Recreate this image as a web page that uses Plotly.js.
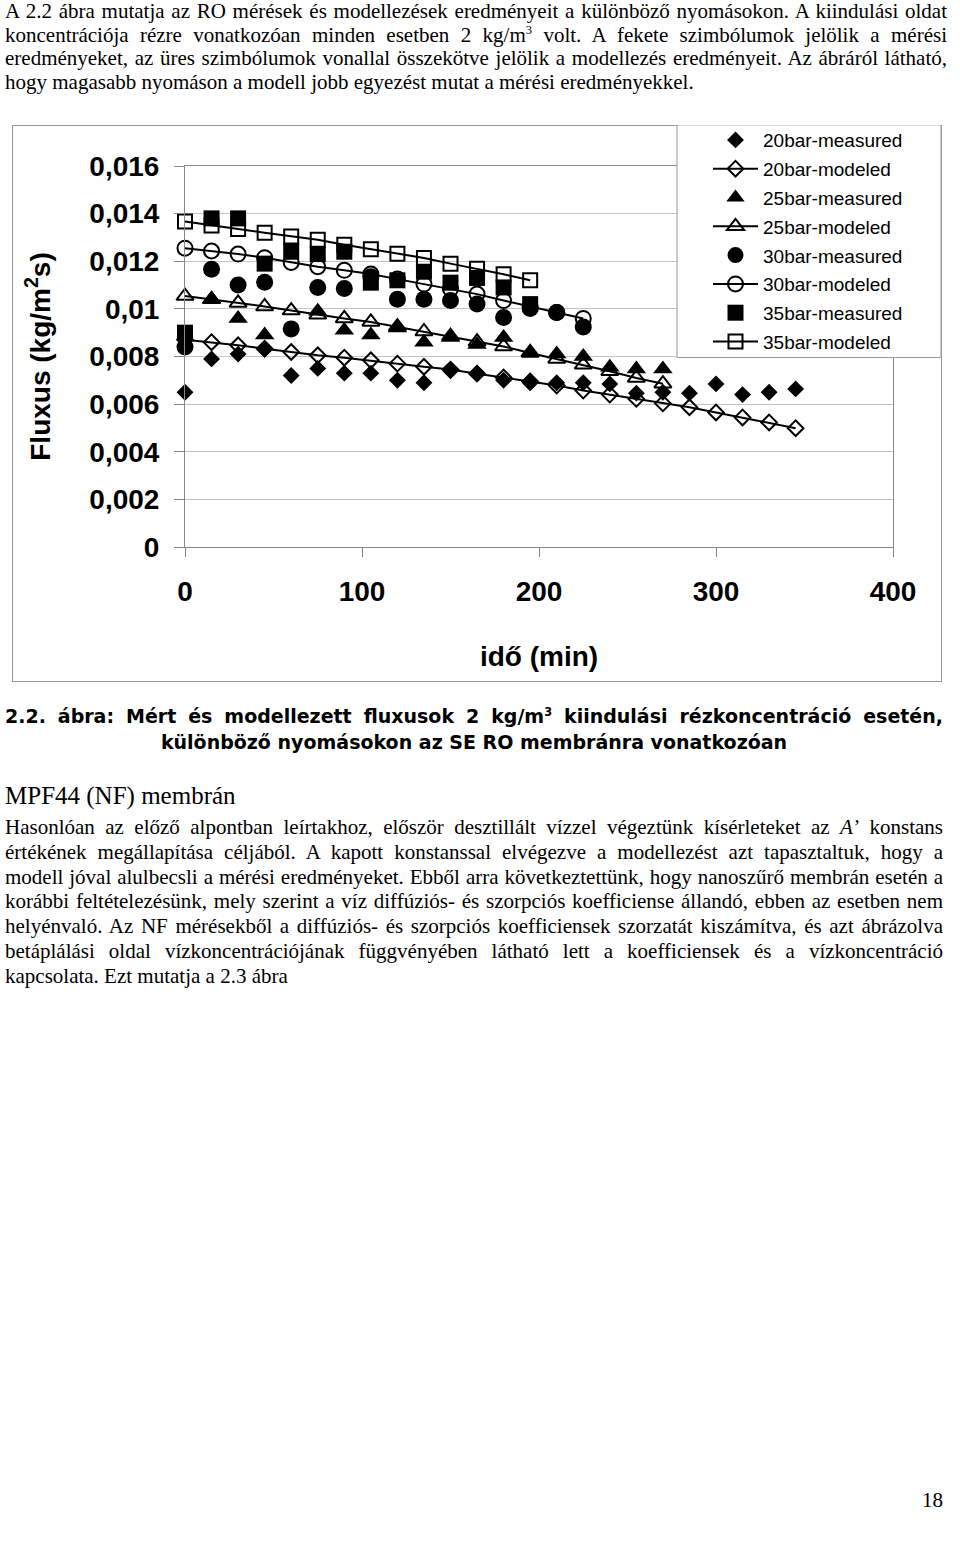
<!DOCTYPE html>
<html>
<head>
<meta charset="utf-8">
<script src="https://cdn.plot.ly/plotly-3.0.1.min.js"></script>
<style>
  body { margin: 0; background: #fff; }
  #page { position: relative; width: 960px; height: 1544px; overflow: hidden; color: #000;
          font-family: "Liberation Serif", "Times New Roman", serif; }
  .para { position: absolute; left: 5px; width: 938px; font-size: 21px; }
  .para div { text-align: justify; text-align-last: justify; white-space: normal; }
  .para div.last { text-align-last: left; }
  .caption { position: absolute; left: 5px; width: 938px; font-family: "DejaVu Sans", sans-serif;
             font-weight: bold; font-size: 19px; line-height: 26px; }
  .caption div { text-align: justify; text-align-last: justify; }
  .caption div.center { text-align: center; text-align-last: center; }
  sup { font-size: 60%; line-height: 0; vertical-align: 0.6em; }
  #chart { position: absolute; left: 12px; top: 125px; width: 930px; height: 557px;
           outline: 1px solid #999; outline-offset: -1px; }
</style>
</head>
<body>
<div id="page">
  <div class="para" style="top:0px; line-height:23.6px; width:942px;">
    <div>A 2.2 ábra mutatja az RO mérések és modellezések eredményeit a különböző nyomásokon. A kiindulási oldat</div>
    <div>koncentrációja rézre vonatkozóan minden esetben 2 kg/m<sup>3</sup> volt. A fekete szimbólumok jelölik a mérési</div>
    <div>eredményeket, az üres szimbólumok vonallal összekötve jelölik a modellezés eredményeit. Az ábráról látható,</div>
    <div class="last">hogy magasabb nyomáson a modell jobb egyezést mutat a mérési eredményekkel.</div>
  </div>

  <div id="chart"></div>

  <div class="caption" style="top:703px;">
    <div>2.2. ábra: Mért és modellezett fluxusok 2 kg/m<sup>3</sup> kiindulási rézkoncentráció esetén,</div>
    <div class="center">különböző nyomásokon az SE RO membránra vonatkozóan</div>
  </div>

  <div style="position:absolute; left:5px; top:781px; font-size:25px; line-height:30px;">MPF44 (NF) membrán</div>

  <div class="para" style="top:815px; line-height:24.8px;">
    <div>Hasonlóan az előző alpontban leírtakhoz, először desztillált vízzel végeztünk kísérleteket az <i>A’</i> konstans</div>
    <div>értékének megállapítása céljából. A kapott konstanssal elvégezve a modellezést azt tapasztaltuk, hogy a</div>
    <div>modell jóval alulbecsli a mérési eredményeket. Ebből arra következtettünk, hogy nanoszűrő membrán esetén a</div>
    <div>korábbi feltételezésünk, mely szerint a víz diffúziós- és szorpciós koefficiense állandó, ebben az esetben nem</div>
    <div>helyénvaló. Az NF mérésekből a diffúziós- és szorpciós koefficiensek szorzatát kiszámítva, és azt ábrázolva</div>
    <div>betáplálási oldal vízkoncentrációjának függvényében látható lett a koefficiensek és a vízkoncentráció</div>
    <div class="last">kapcsolata. Ezt mutatja a 2.3 ábra</div>
  </div>

  <div style="position:absolute; left:922px; top:1488px; font-size:21px;">18</div>
</div>

<script>
// time axis (min), one reading every 15 minutes
const time20 = [0, 15, 30, 45, 60, 75, 90, 105, 120, 135, 150, 165, 180, 195, 210, 225, 240, 255, 270, 285, 300, 315, 330, 345];
const time25 = [0, 15, 30, 45, 60, 75, 90, 105, 120, 135, 150, 165, 180, 195, 210, 225, 240, 255, 270];
const time30 = [0, 15, 30, 45, 60, 75, 90, 105, 120, 135, 150, 165, 180, 195, 210, 225];
const time35 = [0, 15, 30, 45, 60, 75, 90, 105, 120, 135, 150, 165, 180, 195];

// flux values (kg/m2s)
const meas20 = [0.0065, 0.0079, 0.0081, 0.0083, 0.0072, 0.0075, 0.0073, 0.0073, 0.0070, 0.0069, 0.0074, 0.0073,
                0.0070, 0.0069, 0.0069, 0.0069, 0.00685, 0.00646, 0.0065, 0.00646, 0.00685, 0.0064, 0.0065, 0.00664];
const model20 = [0.0087, 0.0086, 0.00847, 0.00833, 0.00819, 0.00805, 0.00795, 0.00784, 0.0077, 0.00757, 0.00745, 0.00728,
                 0.00712, 0.00695, 0.00678, 0.00657, 0.0064, 0.00622, 0.00603, 0.00587, 0.00565, 0.00544, 0.00523, 0.00499];
const meas25 = [null, 0.0104, 0.0096, 0.0089, null, 0.0099, 0.0091, 0.0089, 0.0092, 0.0086, 0.0088, 0.0085,
                0.0088, 0.0082, 0.0081, 0.0080, 0.00755, 0.00748, 0.00748];
const model25 = [0.01054, 0.0104, 0.01025, 0.0101, 0.00993, 0.00975, 0.0096, 0.00945, 0.00925, 0.00905, 0.00885, 0.00862,
                 0.00842, 0.00815, 0.0079, 0.00765, 0.00738, 0.0071, 0.00686];
const meas30 = [0.0084, 0.01166, 0.0110, 0.01112, 0.00916, 0.0109, 0.01086, 0.01135, 0.0104, 0.0104, 0.01035, 0.0102,
                0.00964, 0.01002, 0.00985, 0.00924];
const model30 = [0.01255, 0.01243, 0.0123, 0.01215, 0.01195, 0.01177, 0.01162, 0.01146, 0.01125, 0.01104, 0.01083, 0.01062,
                 0.01035, 0.0101, 0.00985, 0.0096];
const meas35 = [0.0090, 0.0138, 0.0138, 0.0119, 0.0124, 0.0123, 0.0124, 0.0111, 0.0112, 0.01156, 0.0111, 0.0113, 0.0109, 0.0102];
const model35 = [0.01367, 0.0135, 0.01335, 0.0132, 0.01304, 0.0129, 0.01269, 0.0125, 0.01232, 0.01214, 0.0119, 0.01168,
                 0.01145, 0.0112];

const xTickVals = [0, 100, 200, 300, 400];
const xTickText = ['0', '100', '200', '300', '400'];
const yTickVals = [0, 0.002, 0.004, 0.006, 0.008, 0.01, 0.012, 0.014, 0.016];
const yTickText = ['0', '0,002', '0,004', '0,006', '0,008', '0,01', '0,012', '0,014', '0,016'];

function measured(name, x, y, symbol, size) {
    return {
        name: name, x: x, y: y, type: 'scatter', mode: 'markers', legendgroup: name,
        cliponaxis: false,
        marker: { symbol: symbol, size: size, color: '#000' }
    };
}

function modeled(name, x, y, symbol, size) {
    return {
        name: name, x: x, y: y, type: 'scatter', mode: 'lines+markers', legendgroup: name,
        cliponaxis: false,
        line: { color: '#000', width: 2 },
        marker: { symbol: symbol, size: size, color: '#000', line: { color: '#000', width: 2 } }
    };
}

const data = [
    measured('20bar-measured', time20, meas20, 'diamond', 13),
    modeled('20bar-modeled', time20, model20, 'diamond-open', 12),
    measured('25bar-measured', time25, meas25, 'triangle-up', 17),
    modeled('25bar-modeled', time25, model25, 'triangle-up-open', 15),
    measured('30bar-measured', time30, meas30, 'circle', 17),
    modeled('30bar-modeled', time30, model30, 'circle-open', 15),
    measured('35bar-measured', time35, meas35, 'square', 16),
    modeled('35bar-modeled', time35, model35, 'square-open', 14)
];

const boldFont = { family: '"Liberation Sans", Arial, sans-serif', size: 28, weight: 700, color: '#000' };

const layout = {
    width: 930,
    height: 557,
    margin: { l: 173, r: 49, t: 41, b: 135, autoexpand: false },
    paper_bgcolor: 'rgba(0,0,0,0)',
    plot_bgcolor: '#fff',
    font: { family: '"Liberation Sans", Arial, sans-serif', color: '#000' },
    showlegend: true,
    legend: {
        x: 0.7387, xanchor: 'left', y: 1.118, yanchor: 'top',
        bgcolor: 'rgba(0,0,0,0)', borderwidth: 0,
        font: { size: 19, color: '#000' },
        itemwidth: 45, traceorder: 'grouped', tracegroupgap: 1.1
    },
    xaxis: {
        range: [0, 400], tickvals: xTickVals, ticktext: xTickText,
        ticks: 'outside', ticklen: 9, tickcolor: '#888',
        showline: true, mirror: true, linecolor: '#888', linewidth: 1,
        showgrid: false, zeroline: false,
        tickfont: boldFont, ticklabelstandoff: 10,
        title: { text: 'idő (min)', font: boldFont, standoff: 40 }
    },
    yaxis: {
        range: [0, 0.016], tickvals: yTickVals, ticktext: yTickText,
        ticks: 'outside', ticklen: 10, tickcolor: '#888',
        showline: true, mirror: true, linecolor: '#888', linewidth: 1,
        showgrid: true, gridcolor: '#c4c4c4', zeroline: false,
        tickfont: boldFont, ticklabelstandoff: 9,
        title: { text: 'Fluxus (kg/m<sup>2</sup>s)', font: boldFont, standoff: 30 }
    },
    shapes: [{
        type: 'rect', xref: 'paper', yref: 'paper', layer: 'above',
        x0: 0.6949, x1: 1.0678, y0: 0.4974, y1: 1.1079,
        fillcolor: '#fff', line: { color: '#999', width: 1 }
    }]
};

Plotly.newPlot('chart', data, layout, { displayModeBar: false, staticPlot: true });
</script>
</body>
</html>
